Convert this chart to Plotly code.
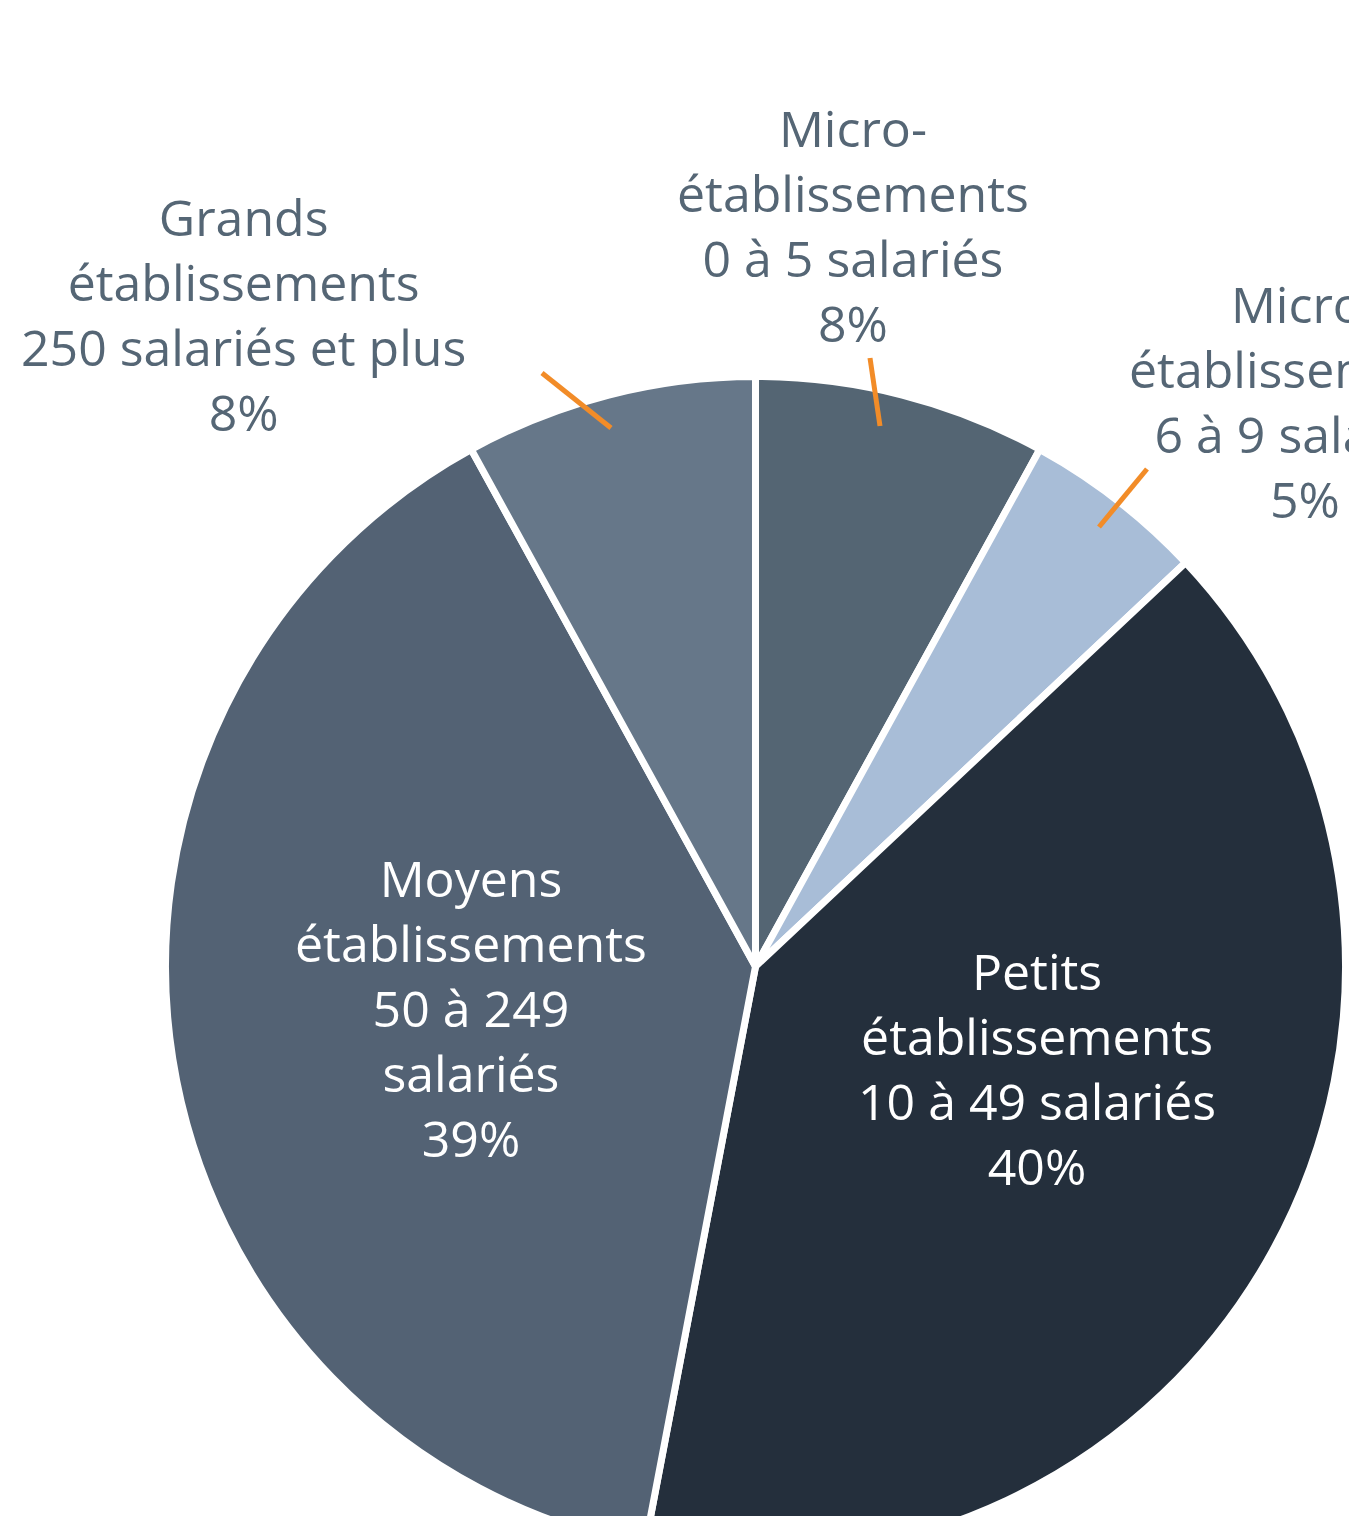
import plotly.graph_objects as go

# ---- data ----
categories = [
    "Micro-établissements 0 à 5 salariés",
    "Micro-établissements 6 à 9 salariés",
    "Petits établissements 10 à 49 salariés",
    "Moyens établissements 50 à 249 salariés",
    "Grands établissements 250 salariés et plus",
]
label_lines = [
    ["Micro-", "établissements", "0 à 5 salariés"],
    ["Micro-", "établissements", "6 à 9 salariés"],
    ["Petits", "établissements", "10 à 49 salariés"],
    ["Moyens", "établissements", "50 à 249", "salariés"],
    ["Grands", "établissements", "250 salariés et plus"],
]
values = [8, 5, 40, 39, 8]

# ---- style ----
W, H = 1349, 1600
colors = ["#546573", "#A8BDD7", "#242F3C", "#536274", "#667789"]
text_colors = ["#556675", "#556675", "#FFFFFF", "#FFFFFF", "#556675"]
# label block centres in pixels
label_pos = [(853, 225), (1305, 401), (1037, 1068), (471, 1008), (243, 314)]
# orange leader lines in pixels
leaders = [
    ((870, 358), (880, 426)),
    ((1147, 469), (1099, 527)),
    ((542, 373), (611, 428)),
]
cx, cy, R = 755.5, 966.5, 590

def px(x):
    return x / W

def py(y):
    return 1 - y / H

fig = go.Figure(
    go.Pie(
        labels=categories,
        values=values,
        sort=False,
        direction="clockwise",
        rotation=0,
        marker=dict(colors=colors, line=dict(color="white", width=7)),
        textinfo="none",
        hoverinfo="label+percent",
        domain=dict(x=[px(cx - R), px(cx + R)], y=[py(cy + R), py(cy - R)]),
        showlegend=False,
    )
)

annotations = []
for lines, v, (x, y), tc in zip(label_lines, values, label_pos, text_colors):
    annotations.append(
        dict(
            text="<br>".join(lines + [f"{v}%"]),
            x=px(x), y=py(y), xref="paper", yref="paper",
            xanchor="center", yanchor="middle", align="center",
            showarrow=False,
            font=dict(family="Open Sans", size=50, color=tc),
        )
    )

shapes = []
for (x0, y0), (x1, y1) in leaders:
    shapes.append(
        dict(type="line", xref="paper", yref="paper",
             x0=px(x0), y0=py(y0), x1=px(x1), y1=py(y1),
             line=dict(color="#F28C28", width=5))
    )

fig.update_layout(
    width=W, height=H,
    margin=dict(l=0, r=0, t=0, b=0),
    paper_bgcolor="white", plot_bgcolor="white",
    annotations=annotations, shapes=shapes,
)

fig.write_html(
    "out.html",
    config={"displayModeBar": False},
    post_script="document.body.style.margin='0';document.body.style.overflow='hidden';document.documentElement.style.overflow='hidden';",
)
